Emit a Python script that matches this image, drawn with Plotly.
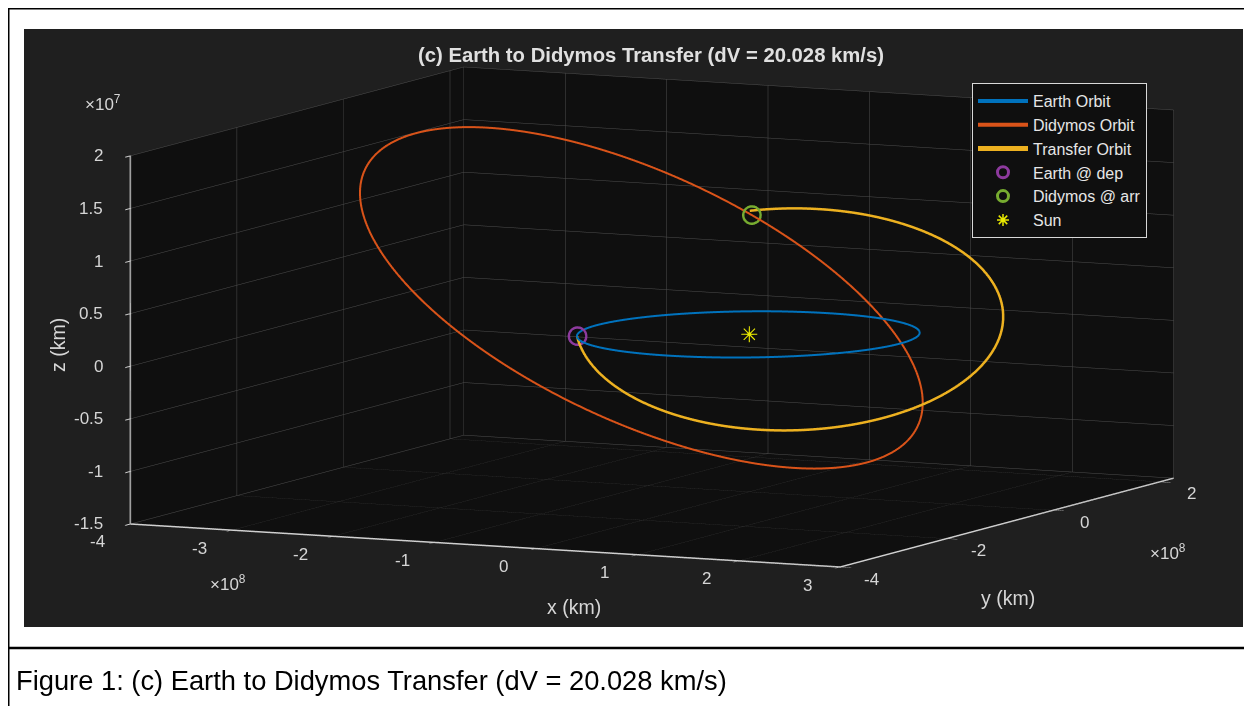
import numpy as np
import plotly.graph_objects as go

AU_KM = 1.495978707e8

# ---------------- data: orbital elements ----------------
orbit_names = ["Earth Orbit", "Didymos Orbit", "Transfer Orbit"]
semi_major_au = [1.0000, 1.6444, 1.2593]
eccentricity = [0.0167, 0.3839, 0.2268]
inclination_deg = [0.0, 3.408, 2.43]
raan_deg = [0.0, 73.2, 29.23]
arg_peri_deg = [102.9, 319.3, 213.3]
nu_start_deg = [0.0, 0.0, -33.3]
nu_end_deg = [360.0, 360.0, 235.0]

# events (true anomaly on the host orbit)
earth_dep_nu_deg = 105.1      # on Earth orbit
didymos_arr_nu_deg = 84.7     # on Didymos orbit
sun_pos_km = [0.0, 0.0, 0.0]

# axis limits and tick labels
x_range = [-4e8, 3e8]
y_range = [-4e8, 2.26e8]
z_range = [-1.5e7, 2e7]
x_tick_vals = [-4e8, -3e8, -2e8, -1e8, 0, 1e8, 2e8, 3e8]
x_tick_text = ["-4", "-3", "-2", "-1", "0", "1", "2", "3"]
y_tick_vals = [-4e8, -2e8, 0, 2e8]
y_tick_text = ["-4", "-2", "0", "2"]
z_tick_vals = [-1.5e7, -1e7, -0.5e7, 0, 0.5e7, 1e7, 1.5e7, 2e7]
z_tick_text = ["-1.5", "-1", "-0.5", "0", "0.5", "1", "1.5", "2"]

# page is shown with an 8px body margin -> figure is 8px smaller and shifted
OFF = 8
W, H = 1244, 698


def px_x(p):
    return (p - OFF) / W


def px_y(p):
    return 1 - (p - OFF) / H


def orbit_xyz(k, nu_deg):
    a = semi_major_au[k] * AU_KM
    e = eccentricity[k]
    inc = np.radians(inclination_deg[k])
    raan = np.radians(raan_deg[k])
    argp = np.radians(arg_peri_deg[k])
    nu = np.radians(np.asarray(nu_deg, dtype=float))
    r = a * (1 - e ** 2) / (1 + e * np.cos(nu))
    u = argp + nu
    x = r * (np.cos(raan) * np.cos(u) - np.sin(raan) * np.sin(u) * np.cos(inc))
    y = r * (np.sin(raan) * np.cos(u) + np.cos(raan) * np.sin(u) * np.cos(inc))
    z = r * np.sin(u) * np.sin(inc)
    return x, y, z


orbit_colors = ["#0072BD", "#D95319", "#EDB120"]
orbit_widths = [4, 4, 5]

fig = go.Figure()
for k, name in enumerate(orbit_names):
    nu = np.linspace(nu_start_deg[k], nu_end_deg[k], 500)
    x, y, z = orbit_xyz(k, nu)
    fig.add_trace(go.Scatter3d(x=x, y=y, z=z, mode="lines", name=name,
                               line=dict(color=orbit_colors[k], width=orbit_widths[k]),
                               hoverinfo="skip"))

ex, ey, ez = orbit_xyz(0, [earth_dep_nu_deg])
fig.add_trace(go.Scatter3d(x=ex, y=ey, z=ez, mode="markers", name="Earth @ dep",
                           marker=dict(symbol="circle-open", size=11, color="#8E3A9E",
                                       line=dict(width=3, color="#8E3A9E"))))
dx, dy, dz = orbit_xyz(1, [didymos_arr_nu_deg])
fig.add_trace(go.Scatter3d(x=dx, y=dy, z=dz, mode="markers", name="Didymos @ arr",
                           marker=dict(symbol="circle-open", size=11, color="#77AC30",
                                       line=dict(width=3, color="#77AC30"))))
# Sun drawn as an eight-spoke asterisk glyph at its 3-D position
fig.add_trace(go.Scatter3d(x=[sun_pos_km[0]], y=[sun_pos_km[1]], z=[sun_pos_km[2]],
                           mode="text", text=["✳"], textposition="middle center",
                           textfont=dict(family="DejaVu Sans", size=22, color="#E8E800"),
                           name="Sun", legendgroup="sun", showlegend=False, hoverinfo="skip"))
# legend entry for the Sun (asterisk symbol)
fig.add_trace(go.Scatter(x=[sun_pos_km[0]], y=[sun_pos_km[1]], mode="markers", name="Sun",
                         legendgroup="sun", xaxis="x", yaxis="y", hoverinfo="skip",
                         marker=dict(symbol="asterisk-open", size=10, color="#E8E800",
                                     line=dict(width=1.5, color="#E8E800"))))

BG_FIG = "#1f1f1f"
BG_AX = "#0f0f0f"
GRID = "#4e4e4e"
AXLINE = "#d0d0d0"
TXT = "#d6d6d6"
FONT = "Liberation Sans, Arial, sans-serif"


def axis(rng, tv, tt):
    return dict(range=rng, tickvals=tv, ticktext=tt, title=dict(text=""),
                showticklabels=False,
                showbackground=True, backgroundcolor=BG_AX,
                showgrid=True, gridcolor=GRID, gridwidth=1,
                zeroline=False, showline=True, linecolor=AXLINE, linewidth=3,
                ticks="outside", ticklen=12, tickcolor=AXLINE, tickwidth=2,
                showspikes=False, autorange=False)


# tick labels placed at the axis edges (data coordinates) as scene annotations;
# anchor points are nudged a hair inside the box so plotly does not cull them
eps = 1e-6
x_lo = x_range[0] + eps * (x_range[1] - x_range[0])
x_hi = x_range[1] - eps * (x_range[1] - x_range[0])
y_lo = y_range[0] + eps * (y_range[1] - y_range[0])
z_lo = z_range[0] + eps * (z_range[1] - z_range[0])


def inside(v, rng):
    span = rng[1] - rng[0]
    return min(max(v, rng[0] + eps * span), rng[1] - eps * span)


tick_font = dict(family=FONT, size=17, color=TXT)
scene_ann = []
for v, t in zip(x_tick_vals, x_tick_text):
    scene_ann.append(dict(x=inside(v, x_range), y=y_lo, z=z_lo, text=t, showarrow=False,
                          xanchor="center", yanchor="middle", xshift=-32, yshift=-18, font=tick_font))
for v, t in zip(y_tick_vals, y_tick_text):
    scene_ann.append(dict(x=x_hi, y=inside(v, y_range), z=z_lo, text=t, showarrow=False,
                          xanchor="center", yanchor="middle", xshift=32, yshift=-12, font=tick_font))
for v, t in zip(z_tick_vals, z_tick_text):
    scene_ann.append(dict(x=x_lo, y=y_lo, z=inside(v, z_range), text=t, showarrow=False,
                          xanchor="right", yanchor="middle", xshift=-25, yshift=0, font=tick_font))

phi = np.radians(-64.5)
th = np.radians(7.3)
dist = 5.0
eye = dict(x=dist * np.cos(th) * np.cos(phi), y=dist * np.cos(th) * np.sin(phi), z=dist * np.sin(th))
zoom = 2.63

box_cx, box_cy = 651.5, 317   # target pixel centre of the 3-D box
fig.update_layout(
    width=W, height=H, margin=dict(l=0, r=0, t=0, b=0),
    paper_bgcolor="white", plot_bgcolor="rgba(0,0,0,0)",
    xaxis=dict(visible=False, range=[1, 2], domain=[0, 0.01]),
    yaxis=dict(visible=False, range=[1, 2], domain=[0, 0.01]),
    scene=dict(
        domain=dict(x=[px_x(box_cx - 600), px_x(box_cx + 600)],
                    y=[px_y(box_cy + 299), px_y(box_cy - 299)]),
        bgcolor="rgba(0,0,0,0)",
        xaxis=axis(x_range, x_tick_vals, x_tick_text),
        yaxis=axis(y_range, y_tick_vals, y_tick_text),
        zaxis=axis(z_range, z_tick_vals, z_tick_text),
        aspectmode="manual",
        aspectratio=dict(x=1 * zoom, y=0.985 * zoom, z=0.472 * zoom),
        camera=dict(eye=eye, up=dict(x=0, y=0, z=1), center=dict(x=0, y=0, z=0),
                    projection=dict(type="orthographic")),
        annotations=scene_ann,
    ),
    title=dict(text="<b>(c) Earth to Didymos Transfer (dV = 20.028 km/s)</b>",
               x=px_x(651), xanchor="center", y=px_y(55), yanchor="middle",
               font=dict(family=FONT, size=20.3, color="#e0e0e0")),
    legend=dict(x=px_x(972), y=px_y(83), xanchor="left", yanchor="top",
                bgcolor=BG_AX, bordercolor="#d8d8d8", borderwidth=1,
                font=dict(family=FONT, size=16, color="#e6e6e6"),
                itemwidth=50, tracegroupgap=0),
    showlegend=True,
)

shapes = [
    dict(type="rect", xref="paper", yref="paper", x0=px_x(24), x1=px_x(1243), y0=px_y(627), y1=px_y(29),
         line=dict(width=0), fillcolor=BG_FIG, layer="below"),
    dict(type="rect", xref="paper", yref="paper", x0=px_x(8.5), x1=px_x(1248), y0=px_y(730), y1=px_y(8.5),
         line=dict(color="black", width=2), fillcolor="rgba(0,0,0,0)", layer="above"),
    dict(type="line", xref="paper", yref="paper", x0=px_x(8), x1=px_x(1252), y0=px_y(648), y1=px_y(648),
         line=dict(color="black", width=2.5), layer="above"),
]
fig.update_layout(shapes=shapes)

ann = [
    dict(text="x (km)", x=px_x(574), y=px_y(607), font=dict(size=19.5)),
    dict(text="y (km)", x=px_x(1008), y=px_y(598), font=dict(size=19.5)),
    dict(text="z (km)", x=px_x(58), y=px_y(345), textangle=-90, font=dict(size=19.5)),
    dict(text="×10<sup>7</sup>", x=px_x(103), y=px_y(103), font=dict(size=17)),
    dict(text="×10<sup>8</sup>", x=px_x(228), y=px_y(583), font=dict(size=17)),
    dict(text="×10<sup>8</sup>", x=px_x(1168), y=px_y(552), font=dict(size=17)),
]
annotations = []
for a in ann:
    f = dict(family=FONT, color=TXT)
    f.update(a.pop("font"))
    annotations.append(dict(xref="paper", yref="paper", showarrow=False, xanchor="center",
                            yanchor="middle", font=f, **a))
annotations.append(dict(text="Figure 1: (c) Earth to Didymos Transfer (dV = 20.028 km/s)",
                        xref="paper", yref="paper", x=px_x(14), y=px_y(680), xanchor="left",
                        yanchor="middle", showarrow=False,
                        font=dict(family=FONT, size=27.3, color="black")))
fig.update_layout(annotations=annotations)

fig.write_html("out.html")
